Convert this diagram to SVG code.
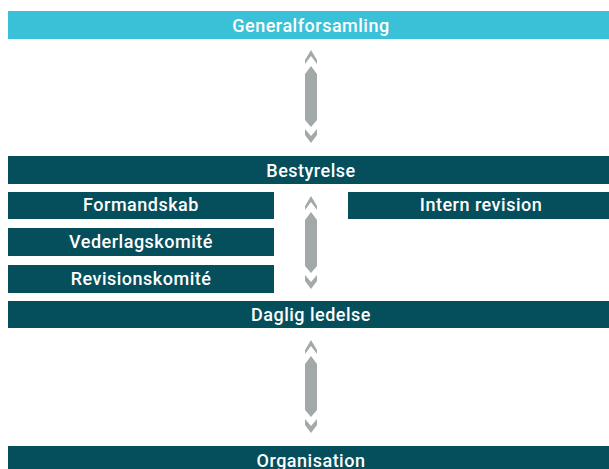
<svg xmlns="http://www.w3.org/2000/svg" width="609" height="469" viewBox="0 0 609 469">
<defs>
<style>
.dark{fill:#054e5b}
.cyan{fill:#3bc1d7}
.t{fill:#ffffff;font-family:Roboto,"Liberation Sans",sans-serif;font-weight:500;font-size:18px;letter-spacing:0.5px;text-anchor:middle}
.arr{fill:#a3a9a9}
</style>
<g id="arrowShape">
<path d="M0,0 L6,10 L6,14 L0,6 L-6,14 L-6,10 Z"/>
<path d="M0,16 L6,24 L6,70 L0,77 L-6,70 L-6,24 Z"/>
<path d="M-6,79 L0,86 L6,79 L6,85 L0,93 L-6,85 Z"/>
</g>
</defs>
<g id="connectors" class="arr">
<use href="#arrowShape" x="311" y="50"/>
<use href="#arrowShape" x="311" y="196"/>
<use href="#arrowShape" x="311" y="340"/>
</g>
<g id="generalforsamling">
<rect class="cyan" x="8" y="11" width="601" height="28"/>
<text class="t" x="311" y="31.5">Generalforsamling</text>
</g>
<g id="bestyrelse">
<rect class="dark" x="8" y="156" width="601" height="28"/>
<text class="t" x="311" y="176.5">Bestyrelse</text>
</g>
<g id="formandskab">
<rect class="dark" x="8" y="192" width="266" height="27"/>
<text class="t" x="141" y="211">Formandskab</text>
</g>
<g id="intern-revision">
<rect class="dark" x="348" y="192" width="261" height="27"/>
<text class="t" x="481" y="211">Intern revision</text>
</g>
<g id="vederlagskomite">
<rect class="dark" x="8" y="228" width="266" height="28"/>
<text class="t" x="141" y="248">Vederlagskomité</text>
</g>
<g id="revisionskomite">
<rect class="dark" x="8" y="265" width="266" height="28"/>
<text class="t" x="141" y="285">Revisionskomité</text>
</g>
<g id="daglig-ledelse">
<rect class="dark" x="8" y="301" width="601" height="27"/>
<text class="t" x="311" y="321">Daglig ledelse</text>
</g>
<g id="organisation">
<rect class="dark" x="8" y="446" width="601" height="23"/>
<text class="t" x="311" y="466.5">Organisation</text>
</g>
</svg>
